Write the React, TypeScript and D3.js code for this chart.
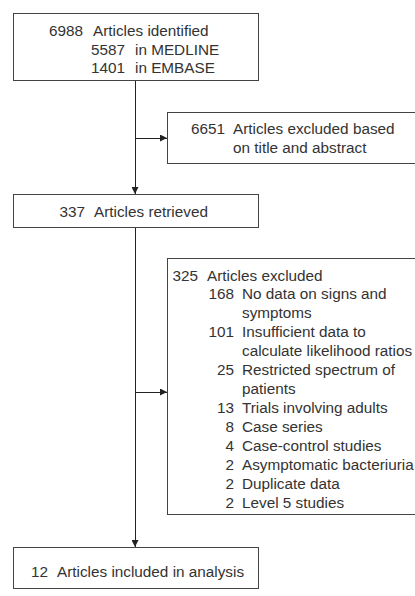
import React, { useRef, useEffect } from 'react';
import * as d3 from 'd3';

// counts and labels for each box of the flow diagram
const identified = [
  { n: '6988', text: 'Articles identified', level: 0 },
  { n: '5587', text: 'in MEDLINE', level: 1 },
  { n: '1401', text: 'in EMBASE', level: 1 },
];
const excludedTitle = [
  { n: '6651', text: 'Articles excluded based', level: 0 },
  { n: '', text: 'on title and abstract', level: 0 },
];
const retrieved = [{ n: '337', text: 'Articles retrieved', level: 0 }];
const excludedFull = [
  { n: '325', text: 'Articles excluded', level: 0 },
  { n: '168', text: 'No data on signs and', level: 1 },
  { n: '', text: 'symptoms', level: 1 },
  { n: '101', text: 'Insufficient data to', level: 1 },
  { n: '', text: 'calculate likelihood ratios', level: 1 },
  { n: '25', text: 'Restricted spectrum of', level: 1 },
  { n: '', text: 'patients', level: 1 },
  { n: '13', text: 'Trials involving adults', level: 1 },
  { n: '8', text: 'Case series', level: 1 },
  { n: '4', text: 'Case-control studies', level: 1 },
  { n: '2', text: 'Asymptomatic bacteriuria', level: 1 },
  { n: '2', text: 'Duplicate data', level: 1 },
  { n: '2', text: 'Level 5 studies', level: 1 },
];
const included = [{ n: '12', text: 'Articles included in analysis', level: 0 }];

function FlowChart() {
  const svgRef = useRef(null);

  useEffect(() => {
    const svg = d3.select(svgRef.current);
    svg.selectAll('*').remove();

    const width = 415;
    const height = 596;
    svg.attr('width', width).attr('height', height);

    const stemX = 135;
    const boxes = [
      { lines: identified, x: 13, y: 13, w: 245, h: 67, base: 36, step: 18.5, cols: [[83, 93], [125, 135]] },
      { lines: excludedTitle, x: 167, y: 112, w: 300, h: 51, base: 134, step: 19, cols: [[225, 233]] },
      { lines: retrieved, x: 13, y: 194, w: 245, h: 33, base: 216.5, step: 19, cols: [[85, 94]] },
      { lines: excludedFull, x: 167, y: 258, w: 300, h: 256, base: 280.5, step: 18.95, cols: [[198, 207], [234, 242]] },
      { lines: included, x: 13, y: 547, w: 245, h: 41, base: 577, step: 19, cols: [[48, 57]] },
    ];

    const defs = svg.append('defs');
    defs.append('marker')
      .attr('id', 'arrow')
      .attr('viewBox', '0 0 10 10')
      .attr('refX', 10)
      .attr('refY', 5)
      .attr('markerUnits', 'userSpaceOnUse')
      .attr('markerWidth', 9)
      .attr('markerHeight', 7)
      .attr('orient', 'auto')
      .append('path')
      .attr('d', 'M0,0 L10,5 L0,10 z')
      .attr('fill', '#222');

    const [b1, b2, b3, b4, b5] = boxes;
    const links = [
      { x1: stemX, y1: b1.y + b1.h, x2: stemX, y2: b3.y },
      { x1: stemX, y1: b2.y + b2.h / 2 + 0.5, x2: b2.x, y2: b2.y + b2.h / 2 + 0.5 },
      { x1: stemX, y1: b3.y + b3.h, x2: stemX, y2: b5.y },
      { x1: stemX, y1: 392, x2: b4.x, y2: 392 },
    ];

    svg.append('g')
      .selectAll('line')
      .data(links)
      .enter()
      .append('line')
      .attr('x1', d => d.x1)
      .attr('y1', d => d.y1)
      .attr('x2', d => d.x2)
      .attr('y2', d => d.y2)
      .attr('stroke', '#222')
      .attr('stroke-width', 1)
      .attr('shape-rendering', 'crispEdges')
      .attr('marker-end', 'url(#arrow)');

    const g = svg.append('g');
    boxes.forEach(b => {
      g.append('rect')
        .attr('x', b.x + 0.5)
        .attr('y', b.y + 0.5)
        .attr('width', b.w)
        .attr('height', b.h)
        .attr('fill', '#fff')
        .attr('stroke', '#444')
        .attr('stroke-width', 1);

      const t = g.append('g')
        .attr('font-family', '"Liberation Sans", Arial, sans-serif')
        .attr('font-size', 15.3)
        .attr('fill', '#333');

      b.lines.forEach((ln, i) => {
        const [numEnd, labelX] = b.cols[ln.level];
        const y = b.base + i * b.step;
        if (ln.n) {
          t.append('text')
            .attr('x', numEnd)
            .attr('y', y)
            .attr('text-anchor', 'end')
            .text(ln.n);
        }
        t.append('text')
          .attr('x', labelX)
          .attr('y', y)
          .text(ln.text);
      });
    });
  }, []);

  return <svg ref={svgRef} style={{ position: 'absolute', left: 0, top: 0 }}></svg>;
}

export default function App() {
  return <FlowChart />;
}
